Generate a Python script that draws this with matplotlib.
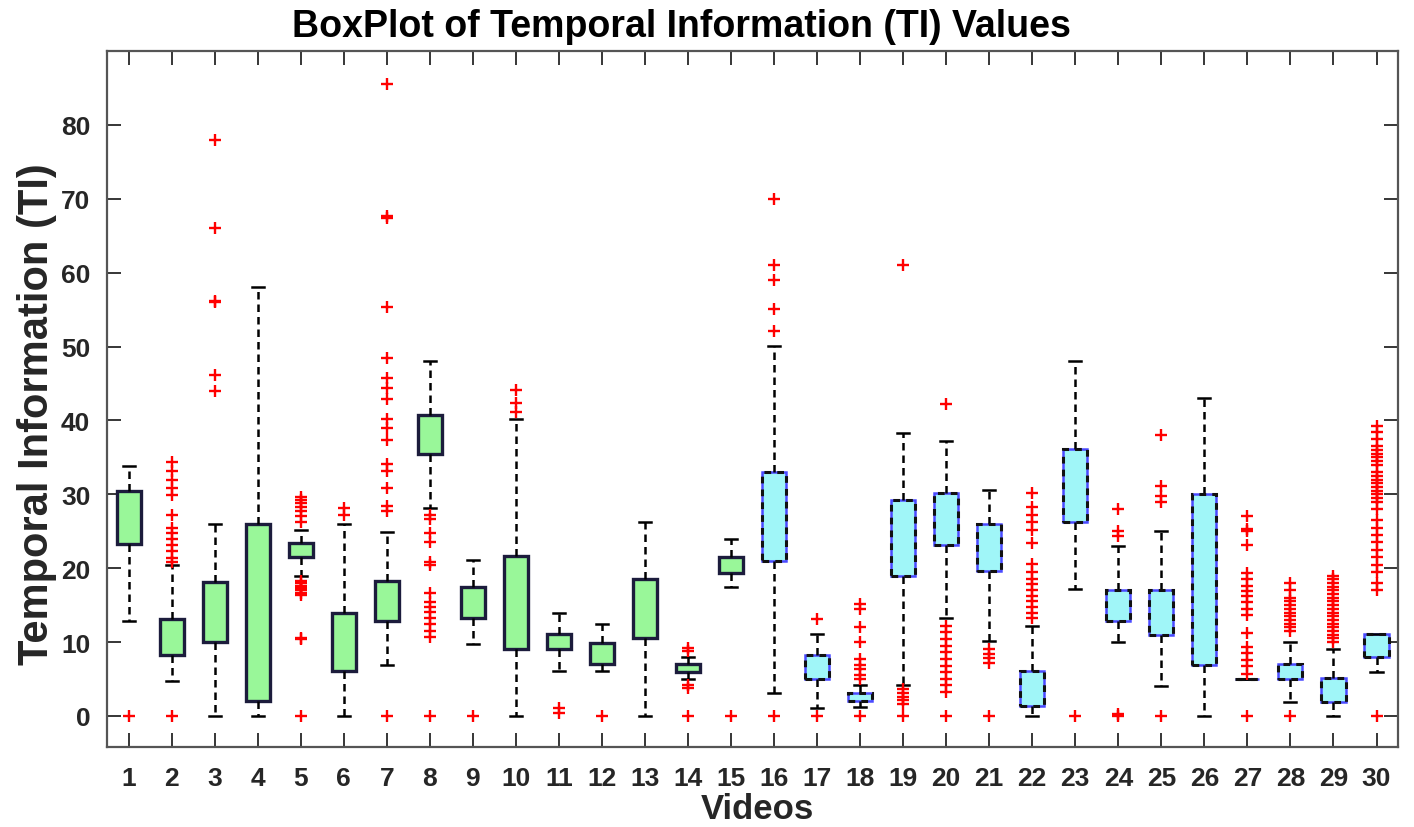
import matplotlib
matplotlib.use("Agg")
from matplotlib import pyplot as plt
from matplotlib.patches import PathPatch

# box statistics (TI values per video)
videos = list(range(1, 31))
q1 = [23.3, 8.3, 10.0, 2.0, 21.5, 6.1, 12.9, 35.5, 13.2, 9.0,
      9.0, 7.1, 10.5, 6.0, 19.4, 21.0, 5.0, 2.0, 19.0, 23.2,
      19.6, 1.4, 26.2, 12.9, 10.9, 6.9, 5.0, 5.0, 1.9, 8.0]
q3 = [30.5, 13.1, 18.1, 26.0, 23.4, 14.0, 18.3, 40.7, 17.5, 21.6,
      11.1, 9.9, 18.5, 7.1, 21.5, 33.0, 8.2, 3.1, 29.2, 30.2,
      26.0, 6.1, 36.1, 17.1, 17.1, 30.1, 5.0, 7.1, 5.1, 11.1]
whis_lo = [12.9, 4.8, 0.0, 0.0, 18.9, 0.0, 6.9, 28.2, 9.8, 0.0,
           6.1, 6.1, 0.0, 5.0, 17.4, 3.1, 1.1, 1.2, 4.2, 13.2,
           10.1, 0.0, 17.2, 10.0, 4.1, 0.0, 5.0, 1.9, 0.0, 6.0]
whis_hi = [33.8, 20.5, 26.0, 58.0, 25.2, 26.0, 24.9, 48.0, 21.1, 40.2,
           14.0, 12.5, 26.2, 8.0, 23.9, 50.1, 11.1, 4.2, 38.3, 37.2,
           30.6, 12.2, 48.0, 23.0, 25.1, 43.1, 5.0, 10.0, 9.1, 11.1]
outliers = [
    [0],
    [0, 20.8, 21.4, 22.3, 23.1, 23.9, 24.8, 25.5, 27.2, 29.9, 30.8, 32.0, 33.2, 34.4],
    [44.0, 46.1, 56.0, 56.2, 66.0, 77.9],
    [],
    [0, 10.4, 10.6, 16.4, 16.7, 17.0, 17.3, 17.6, 18.0, 18.3, 26.3, 27.0, 27.8, 28.3, 28.8, 29.2, 29.6],
    [27.2, 28.2],
    [0, 27.8, 28.4, 30.8, 33.2, 34.1, 37.3, 39.0, 40.2, 42.9, 44.4, 45.7, 48.5, 55.4, 67.4, 67.7, 85.6],
    [0, 10.7, 11.5, 12.4, 13.3, 14.1, 14.8, 15.4, 16.7, 20.4, 20.8, 23.6, 24.8, 26.6, 27.2],
    [0],
    [41.2, 42.3, 44.1],
    [0.4, 1.1],
    [0],
    [],
    [0, 3.8, 4.2, 8.8, 9.2],
    [0],
    [0, 52.1, 55.1, 59.0, 61.0, 70.0],
    [0, 13.1],
    [0, 5.0, 5.6, 6.3, 6.9, 7.7, 10.0, 12.1, 14.5, 15.2],
    [0, 1.6, 2.1, 2.6, 3.1, 3.6, 61.0],
    [0, 3.2, 4.2, 5.0, 5.9, 6.8, 7.7, 8.6, 9.5, 10.4, 11.3, 12.2, 42.2],
    [0, 7.2, 7.8, 8.4, 9.0],
    [13.2, 14.0, 14.8, 15.5, 16.2, 17.0, 17.8, 18.6, 19.5, 20.6, 23.4, 25.2, 26.2, 27.2, 28.3, 30.2],
    [0],
    [0, 0.3, 24.3, 25.0, 28.0],
    [0, 29.0, 29.8, 31.1, 38.0],
    [],
    [0, 5.7, 6.8, 7.6, 8.5, 9.4, 11.2, 13.6, 14.5, 15.4, 16.3, 16.9, 17.6, 18.5, 19.3, 23.1, 25.1, 25.3, 27.1],
    [0, 11.5, 12.0, 12.5, 13.0, 13.5, 14.0, 14.5, 15.0, 15.5, 16.0, 17.0, 18.0],
    [10.0, 10.5, 11.0, 11.5, 12.0, 12.5, 13.0, 13.5, 14.0, 14.5, 15.0, 15.5, 16.0, 16.5, 17.0, 17.5, 18.0, 18.5, 19.0],
    [0, 17.0, 18.0, 19.5, 20.5, 21.5, 22.5, 23.5, 24.5, 25.5, 26.5, 28.0, 29.0, 29.5, 30.0, 30.5,
     31.0, 31.5, 32.0, 32.5, 33.0, 34.0, 34.5, 35.0, 35.5, 36.0, 36.5, 37.5, 38.5, 39.3],
]
n_green = 15  # first 15 videos drawn green, the rest cyan

plt.rcParams["font.family"] = ["Liberation Sans", "DejaVu Sans"]
plt.rcParams["font.weight"] = "bold"

fig = plt.figure(figsize=(14.14, 8.28), dpi=100)
ax = fig.add_axes([0.0757, 0.0966, 0.9130, 0.8406])

stats = []
for i in range(len(videos)):
    # medians are not visible in the reference, lines are hidden below
    stats.append({"q1": q1[i], "q3": q3[i], "med": q1[i],
                  "whislo": whis_lo[i], "whishi": whis_hi[i],
                  "fliers": outliers[i], "label": str(videos[i])})

res = ax.bxp(stats, positions=videos, widths=0.56, patch_artist=True,
             showfliers=True, capwidths=0.28,
             medianprops=dict(linewidth=0),
             whiskerprops=dict(color="black", linestyle=(0, (3.0, 2.0)), linewidth=1.8),
             capprops=dict(color="black", linewidth=1.8),
             flierprops=dict(marker="+", markeredgecolor="red", markersize=8,
                             markeredgewidth=1.7, linestyle="none"))

for i, box in enumerate(res["boxes"]):
    if i < n_green:
        box.set_facecolor("#99f799")
        box.set_edgecolor("#1c1c3c")
        box.set_linewidth(2.4)
    else:
        box.set_facecolor("#a0f6f8")
        box.set_edgecolor("#4a4aff")
        box.set_linewidth(1.8)
        ax.add_patch(PathPatch(box.get_path(), fill=False, edgecolor="#111111",
                               linestyle=(0, (2.2, 2.0)), linewidth=2.2, zorder=box.get_zorder() + 0.1))

ax.set_xlim(0.5, 30.5)
ax.set_ylim(-4.2, 90)
ax.set_xticks(videos)
ax.set_xticklabels([str(v) for v in videos])
ax.set_yticks(range(0, 81, 10))
ax.tick_params(direction="in", length=10, width=1.3, top=True, right=True,
               labelsize=19, colors="#262626")
ax.tick_params(axis="x", pad=14)
ax.tick_params(axis="y", pad=12)
for lbl in ax.get_xticklabels() + ax.get_yticklabels():
    lbl.set_fontweight("bold")
for sp in ax.spines.values():
    sp.set_color("#555555")
    sp.set_linewidth(1.6)

fig.text(0.4816, 0.967, "BoxPlot of Temporal Information (TI) Values",
         ha="center", va="center", fontsize=27, fontweight="bold", color="black")
fig.text(0.026, 0.50, "Temporal Information (TI)", rotation=90,
         ha="center", va="center", fontsize=30, fontweight="bold", color="#262626")
fig.text(0.5355, 0.022, "Videos", ha="center", va="center",
         fontsize=25, fontweight="bold", color="#262626")

fig.savefig("out.png", dpi=100)
